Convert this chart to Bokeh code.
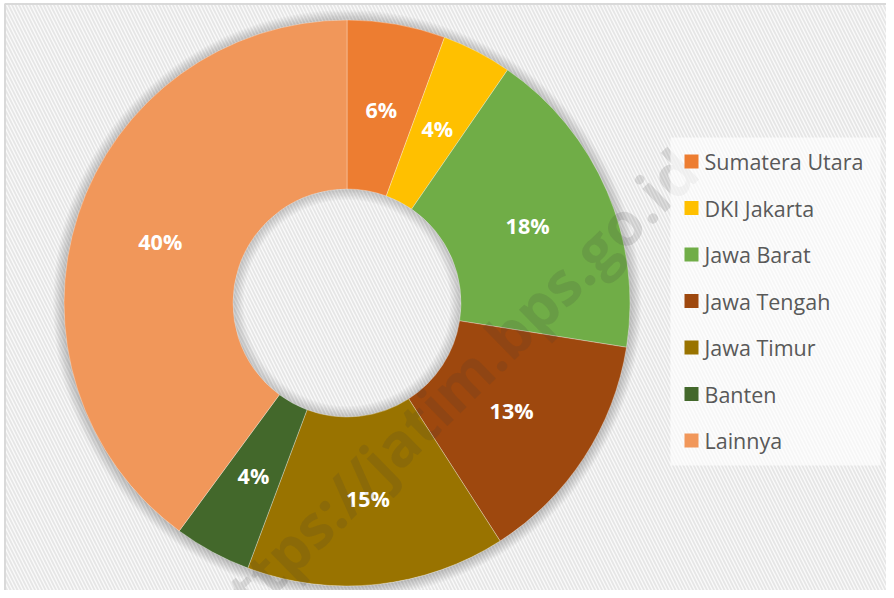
import math
from bokeh.plotting import figure
from bokeh.models import Range1d
from bokeh.core.properties import value
from bokeh.embed import file_html
from bokeh.resources import INLINE

# ---- data ----
categories = ["Sumatera Utara", "DKI Jakarta", "Jawa Barat", "Jawa Tengah",
              "Jawa Timur", "Banten", "Lainnya"]
shares = [5.6, 4.0, 17.9, 13.4, 14.8, 4.4, 39.9]
colors = ["#ED7D31", "#FFC000", "#70AD47", "#9E480E", "#997300", "#43682B", "#F1975A"]
watermark = "https://jatim.bps.go.id"

W, H = 886, 590
p = figure(width=W, height=H, output_backend="svg", toolbar_location=None,
           x_range=Range1d(0, W), y_range=Range1d(0, H), min_border=0,
           background_fill_color="white", border_fill_color="white",
           outline_line_alpha=0)
p.axis.visible = False
p.grid.visible = False

# hatched chart area with border
p.quad(left=[4.5], right=[W + 20], bottom=[-20], top=[H - 3.5], fill_color="#fafafa",
       line_color="#d9d9d9", line_width=2,
       hatch_pattern="\\", hatch_color="#e6e6e6", hatch_scale=7, hatch_weight=1.8)

cx, cy = 346.5, 287.5
R_out, R_in = 283, 114

# soft shadows
for k in range(8):
    p.annulus(x=[cx], y=[cy - 1], inner_radius=R_out - 1, outer_radius=R_out + 1 + k * 1.4,
              fill_color="#000000", fill_alpha=0.028, line_alpha=0)
for k in range(8):
    p.annulus(x=[cx], y=[cy], inner_radius=R_in - 1 - k * 1.4, outer_radius=R_in + 1,
              fill_color="#000000", fill_alpha=0.024, line_alpha=0)

total = sum(shares)
starts, ends, lx, ly, labels = [], [], [], [], []
cum = 0.0
for v in shares:
    a0 = math.pi / 2 - 2 * math.pi * cum / total
    cum += v
    a1 = math.pi / 2 - 2 * math.pi * cum / total
    starts.append(a0)
    ends.append(a1)
    am = (a0 + a1) / 2
    rl = (R_out + R_in) / 2 - 2
    lx.append(cx + rl * math.cos(am))
    ly.append(cy + rl * math.sin(am))
    labels.append(f"{round(v)}%")

p.annular_wedge(x=cx, y=cy, inner_radius=R_in, outer_radius=R_out,
                start_angle=starts, end_angle=ends, direction="clock",
                fill_color=colors, line_color="white", line_alpha=0.3, line_width=1)

p.text(x=lx, y=ly, text=labels, text_color="white", text_font=value("Open Sans"),
       text_font_style="bold", text_font_size="21.5px", text_align="center",
       text_baseline="middle")

# watermark
p.text(x=[447], y=[H - 393], text=[watermark], angle=0.775, text_color="#3a3a3a",
       text_alpha=0.14, text_font=value("Open Sans"), text_font_style="bold",
       text_font_size="60px", text_align="center", text_baseline="middle")

# legend
p.quad(left=[670], right=[880], bottom=[H - 465], top=[H - 137],
       fill_color="white", fill_alpha=0.65, line_alpha=0)
row0 = H - 161
step = 46.5
ys = [row0 - i * step for i in range(len(categories))]
p.scatter(x=[691] * len(categories), y=ys, marker="square", size=14,
          fill_color=colors, line_alpha=0)
p.text(x=[704] * len(categories), y=ys, text=categories, text_color="#595959",
       text_font=value("Open Sans"), text_font_size="21.5px", text_baseline="middle",
       text_align="left")

open("out.html", "w").write(file_html(p, INLINE))
